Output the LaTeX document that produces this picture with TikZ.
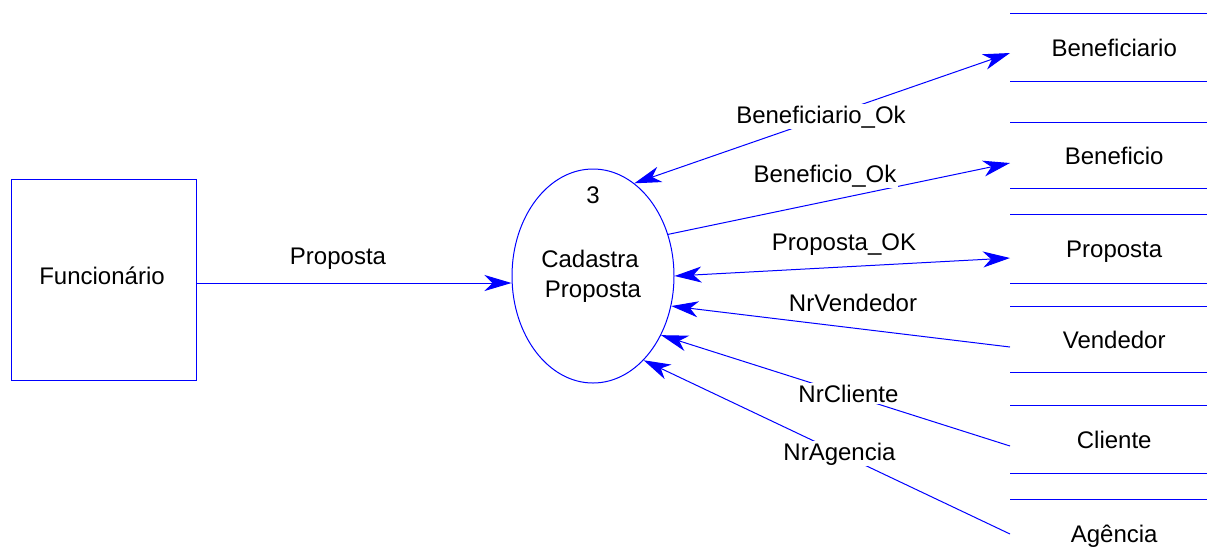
\documentclass[tikz,border=0pt]{standalone}
\usepackage{fontspec}
\setmainfont{Liberation Sans}
\usetikzlibrary{arrows.meta,shapes.geometric}
\begin{document}
\begin{tikzpicture}[x=1pt,y=-1pt,
  every node/.style={font=\fontsize{24}{29}\selectfont},
  flow/.style={draw=blue,line width=1pt},
  tip/.style={-{Stealth[length=27pt,width=16pt,inset=8pt]}},
  both/.style={{Stealth[length=27pt,width=16pt,inset=8pt]}-{Stealth[length=27pt,width=16pt,inset=8pt]}},
  lab/.style={fill=white,inner sep=1.5pt,anchor=base},
  store/.style={minimum width=208pt,inner sep=0pt,text height=17pt,text depth=0pt,anchor=west},
  storeline/.style={draw=blue,line width=1pt}]
\useasboundingbox (0,0) rectangle (1207,558);
% external entity
\node[draw=blue,line width=1pt,minimum width=185pt,minimum height=201pt,inner sep=0pt] (f) at (103.5,279.5) {};
\node[anchor=base] (ft) at (102,284) {Funcionário};
% process
\node[draw=blue,line width=1pt,ellipse,minimum width=162pt,minimum height=214pt,inner sep=0pt] (p) at (593,276) {};
\node[anchor=base] (pn) at (593,203) {3};
\node[anchor=base] (pt1) at (590,267) {Cadastra};
\node[anchor=base] (pt2) at (593,297) {Proposta};
% data stores
\node[store,minimum height=67pt] (s1) at (1010,47.5) {Beneficiario};
\node[store,minimum height=66pt] (s2) at (1010,155.5) {Beneficio};
\node[store,minimum height=68pt] (s3) at (1010,249) {Proposta};
\node[store,minimum height=65pt] (s4) at (1010,339.5) {Vendedor};
\node[store,minimum height=67pt] (s5) at (1010,439.5) {Cliente};
\node[store,minimum height=67pt] (s6) at (1010,533.5) {Agência};
\foreach \s in {s1,s2,s3,s4,s5,s6}{
  \draw[storeline] (\s.north west) -- (\s.north east);
  \draw[storeline] (\s.south west) -- (\s.south east);
}
% connectors
\coordinate (fa) at ([yshift=-3.5pt]f.east);
\draw[flow,tip] (fa) -- (p.west |- fa);
\node[lab] (l0) at (338,264) {Proposta};

\draw[flow,both] (p.66.7) -- ([yshift=-5.5pt]s1.west);
\draw[flow,tip] (p.29.2) -- ([yshift=-7.5pt]s2.west);
\draw[flow,both] (p.-0.7) -- ([yshift=-9pt]s3.west);
\draw[flow,tip] ([yshift=-7.5pt]s4.west) -- (p.-21.7);
\draw[flow,tip] ([yshift=-6.5pt]s5.west) -- (p.-41.9);
\draw[flow,tip] ([yshift=-0.5pt]s6.west) -- (p.-59.2);

\node[lab] (l1) at (821,123) {Beneficiario\_Ok};
\node[lab] (l2) at (825,182) {Beneficio\_Ok};
\node[lab] (l3) at (844,250) {Proposta\_OK};
\node[lab] (l4) at (853,311) {NrVendedor};
\node[lab] (l5) at (848.5,402) {NrCliente};
\node[lab] (l6) at (839.5,460) {NrAgencia};
\end{tikzpicture}
\end{document}
